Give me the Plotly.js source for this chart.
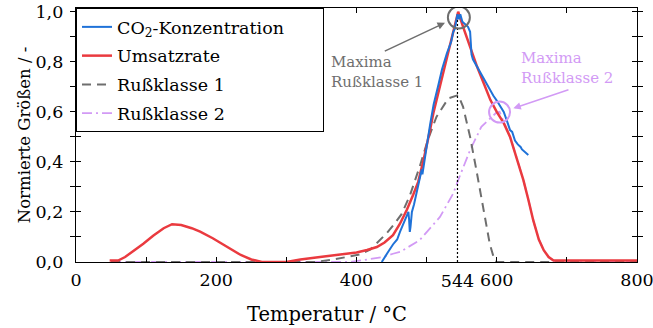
<!DOCTYPE html>
<html>
<head>
<meta charset="utf-8">
<script src="https://cdn.plot.ly/plotly-3.0.1.min.js"></script>
<style>html,body{margin:0;padding:0;background:#fff;}#chart{width:653px;height:328px;}</style>
</head>
<body>
<div id="chart"></div>
<script>
// CO2-Konzentration (blue)
var co2T = [436,440,445,452,458,462,468,472,474,475,476,477,479,482,486,490,493,494,495,497,500,505,510,517,522,529,535,538,540,542,544,546,548,551,555,559,562,564,566,570,576,580,585,590,595,600,605,610,615,619,622,626,630,634,636,640,645];
var co2V = [0.0,0.02,0.04,0.07,0.09,0.12,0.16,0.19,0.2,0.17,0.12,0.14,0.2,0.23,0.28,0.33,0.37,0.35,0.37,0.42,0.46,0.55,0.63,0.71,0.77,0.835,0.88,0.92,0.93,0.96,0.99,0.97,0.99,0.96,0.95,0.94,0.92,0.83,0.81,0.79,0.76,0.735,0.71,0.685,0.665,0.645,0.625,0.6,0.56,0.527,0.52,0.485,0.47,0.46,0.45,0.44,0.428];
// Umsatzrate (red)
var umsT = [48,60,70,80,96,110,125,137,150,165,177,195,215,235,250,258,265,300,320,348,375,400,415,429,440,452,462,472,481,488,495,500,505,510,517,524,532,540,545,552,562,572,582,591,600,610,619,628,638,645,652,660,667,674,681,700,800];
var umsV = [0.006,0.006,0.02,0.04,0.073,0.105,0.135,0.151,0.148,0.135,0.121,0.095,0.06,0.028,0.01,0.003,0,0,0.01,0.02,0.03,0.038,0.048,0.06,0.078,0.107,0.153,0.21,0.27,0.32,0.4,0.46,0.53,0.6,0.68,0.76,0.85,0.94,1.0,0.94,0.86,0.78,0.71,0.647,0.6,0.555,0.5,0.42,0.327,0.25,0.167,0.09,0.047,0.02,0.006,0.006,0.006];
// Rußklasse 1 (gray dashed)
var r1T = [50,340,367,405,420,429,443,452,464,476,490,502,514,531,545,552,562,571,581,590,597,600,800];
var r1V = [0,0,0.01,0.03,0.05,0.075,0.115,0.145,0.19,0.265,0.38,0.49,0.58,0.654,0.667,0.62,0.5,0.367,0.207,0.073,0.005,0,0];
// Rußklasse 2 (purple dash-dot)
var r2T = [50,390,420,438,452,462,490,519,538,545,562,578,593,600,604,610,619,628,638,645,652,660,667,674,681,690,800];
var r2V = [0,0,0.012,0.02,0.033,0.04,0.087,0.18,0.274,0.327,0.447,0.54,0.58,0.598,0.6,0.56,0.5,0.42,0.327,0.25,0.167,0.09,0.047,0.02,0.005,0,0];
// markers
var maxLineT = [544,544];
var maxLineV = [0,0.975];
var max1 = {T:[546], V:[0.977]};
var max2 = {T:[604], V:[0.599]};
// ticks
var xTickVals = [0,100,200,300,400,500,600,700,800];
var xTickText = ['0','','200','','400','','600','','800'];
var xExtraVals = [544];
var xExtraText = ['544'];
var yTickVals = [0,0.1,0.2,0.3,0.4,0.5,0.6,0.7,0.8,0.9,1.0];
var yTickText = ['0,0','','0,2','','0,4','','0,6','','0,8','','1,0'];

var cBlue='#1f72d8', cRed='#ea3a3f', cGray='#6e6e6e', cPurple='#d29af5';
var pad = '\u00a0\u00a0\u00a0\u00a0\u00a0\u00a0';

var traces = [
  {x:r2T,y:r2V,mode:'lines',name:'Rußklasse 2',legendgroup:'g4',legendrank:4,line:{color:cPurple,width:1.8,dash:'10px,4px,2px,4px'}},
  {x:r1T,y:r1V,mode:'lines',name:'Rußklasse 1',legendgroup:'g3',legendrank:3,line:{color:cGray,width:2,dash:'9px,6px'}},
  {x:umsT,y:umsV,mode:'lines',name:'Umsatzrate',legendgroup:'g2',legendrank:2,line:{color:cRed,width:2.5}},
  {x:co2T,y:co2V,mode:'lines',name:'CO<sub>2</sub>-Konzentration'+pad,legendgroup:'g1',legendrank:1,line:{color:cBlue,width:2}},
  {x:maxLineT,y:maxLineV,mode:'lines',showlegend:false,line:{color:'#000',width:1.2,dash:'2px,2px'},hoverinfo:'skip'},
  {x:max1.T,y:max1.V,mode:'markers',showlegend:false,marker:{symbol:'circle-open',size:22,color:cGray,line:{width:2,color:cGray}}},
  {x:max2.T,y:max2.V,mode:'markers',showlegend:false,marker:{symbol:'circle-open',size:21,color:cPurple,line:{width:2,color:cPurple}}},
  {x:[null],y:[null],xaxis:'x2',showlegend:false,hoverinfo:'skip'}
];

var layout = {
  width:653,height:328,
  margin:{l:76,r:16,t:8,b:66},
  paper_bgcolor:'#fff',plot_bgcolor:'#fff',
  font:{family:'DejaVu Serif, serif',size:17,color:'#000'},
  showlegend:true,
  xaxis:{range:[0,800],tickmode:'array',tickvals:xTickVals,ticktext:xTickText,ticks:'inside',ticklen:5,tickwidth:1,tickcolor:'#000',
         showline:true,linecolor:'#000',linewidth:1.2,mirror:'allticks',showgrid:false,zeroline:false,tickfont:{size:17.5},ticklabelstandoff:2,ticklabeloverflow:'allow'},
  xaxis2:{range:[0,800],overlaying:'x',anchor:'y',side:'bottom',tickmode:'array',tickvals:xExtraVals,ticktext:xExtraText,ticks:'inside',ticklen:5,tickcolor:'rgba(0,0,0,0)',
          showline:false,showgrid:false,zeroline:false,tickfont:{size:17.5},ticklabelstandoff:6,ticklabeloverflow:'allow'},
  yaxis:{range:[0,1.015],tickmode:'array',tickvals:yTickVals,ticktext:yTickText,ticks:'inside',ticklen:5,tickwidth:1,tickcolor:'#000',
         showline:true,linecolor:'#000',linewidth:1.2,mirror:'allticks',showgrid:false,zeroline:false,tickfont:{size:17.5},ticklabelstandoff:8,
         title:{text:'Normierte Größen / -',font:{size:16.5},standoff:0}},
  legend:{x:0,y:1,xanchor:'left',yanchor:'top',bgcolor:'#fff',bordercolor:'#000',borderwidth:1,font:{size:17.5},tracegroupgap:3,itemwidth:30,traceorder:'grouped'},
  annotations:[
    {xref:'paper',yref:'paper',x:0.447,y:-0.205,text:'Temperatur / °C',showarrow:false,xanchor:'center',yanchor:'middle',font:{size:19.5}},
    {xref:'x',yref:'y',x:360.8,y:0.76,text:'Maxima<br>Rußklasse 1',showarrow:false,xanchor:'left',yanchor:'middle',align:'left',font:{size:15,color:cGray}},
    {xref:'x',yref:'y',x:631.7,y:0.777,text:'Maxima<br>Rußklasse 2',showarrow:false,xanchor:'left',yanchor:'middle',align:'left',font:{size:15,color:cPurple}},
    {xref:'x',yref:'y',x:526.2,y:0.956,axref:'x',ayref:'y',ax:438.2,ay:0.84,text:'',showarrow:true,arrowhead:2,arrowsize:1,arrowwidth:1.5,arrowcolor:cGray},
    {xref:'x',yref:'y',x:623.6,y:0.614,axref:'x',ayref:'y',ax:704.4,ay:0.69,text:'',showarrow:true,arrowhead:2,arrowsize:1,arrowwidth:1.5,arrowcolor:cPurple}
  ]
};
Plotly.newPlot('chart',traces,layout,{displayModeBar:false,staticPlot:true});
</script>
</body>
</html>
